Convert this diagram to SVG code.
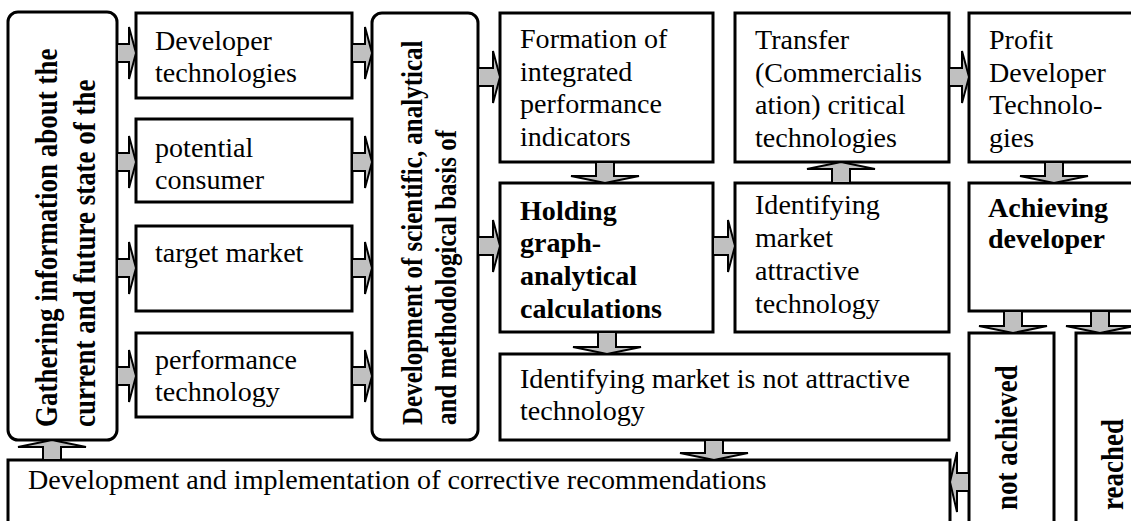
<svg xmlns="http://www.w3.org/2000/svg" width="1131" height="521" viewBox="0 0 1131 521">
<style>
.box{fill:#fff;stroke:#000;stroke-width:3}
.arr{fill:#c0c0c0;stroke:#000;stroke-width:2;stroke-linejoin:miter}
.t{font-family:"Liberation Serif","Times New Roman",serif;font-size:26.5px;fill:#000}
.b{font-weight:bold}
.v{font-family:"Liberation Serif","Times New Roman",serif;font-weight:bold;fill:#000}
</style>
<rect width="1131" height="521" fill="#fff"/>
<g id="nodes">
<g id="gathering"><rect class="box" x="8" y="12" width="109" height="428" rx="10"/>
<text class="v" font-size="27" transform="translate(57,427) scale(1.14,1) rotate(-90)"><tspan x="0" y="0">Gathering information about the</tspan><tspan x="0" dy="33">current and future state of the</tspan></text></g>
<g id="devtech"><rect class="box" x="136" y="13" width="216" height="85"/>
<text class="t" transform="translate(155,50) scale(1.06,1)"><tspan x="0" y="0">Developer</tspan><tspan x="0" dy="32">technologies</tspan></text></g>
<g id="consumer"><rect class="box" x="136" y="119" width="216" height="83"/>
<text class="t" transform="translate(155,157) scale(1.06,1)"><tspan x="0" y="0">potential</tspan><tspan x="0" dy="32">consumer</tspan></text></g>
<g id="market"><rect class="box" x="136" y="226" width="216" height="85"/>
<text class="t" transform="translate(155,262) scale(1.06,1)"><tspan x="0" y="0">target market</tspan></text></g>
<g id="perf"><rect class="box" x="136" y="333" width="216" height="84"/>
<text class="t" transform="translate(155,369) scale(1.06,1)"><tspan x="0" y="0">performance</tspan><tspan x="0" dy="32">technology</tspan></text></g>
<g id="devsci"><rect class="box" x="372" y="13" width="106" height="427" rx="10"/>
<text class="v" font-size="25" transform="translate(422,425) scale(1.14,1) rotate(-90)"><tspan x="0" y="0">Development of scientific, analytical</tspan><tspan x="0" dy="30">and methodological basis of</tspan></text></g>
<g id="formation"><rect class="box" x="500" y="13" width="213" height="149"/>
<text class="t" transform="translate(520,48) scale(1.06,1)"><tspan x="0" y="0">Formation of</tspan><tspan x="0" dy="33">integrated</tspan><tspan x="0" dy="32">performance</tspan><tspan x="0" dy="33">indicators</tspan></text></g>
<g id="holding"><rect class="box" x="500" y="183" width="213" height="149"/>
<text class="t b" transform="translate(520,220) scale(1.06,1)"><tspan x="0" y="0">Holding</tspan><tspan x="0" dy="32">graph-</tspan><tspan x="0" dy="33">analytical</tspan><tspan x="0" dy="33">calculations</tspan></text></g>
<g id="transfer"><rect class="box" x="735" y="13" width="214" height="149"/>
<text class="t" transform="translate(755,49) scale(1.06,1)"><tspan x="0" y="0">Transfer</tspan><tspan x="0" dy="33">(Commercialis</tspan><tspan x="0" dy="32">ation) critical</tspan><tspan x="0" dy="33">technologies</tspan></text></g>
<g id="attractive"><rect class="box" x="735" y="183" width="214" height="149"/>
<text class="t" transform="translate(755,214) scale(1.06,1)"><tspan x="0" y="0">Identifying</tspan><tspan x="0" dy="33">market</tspan><tspan x="0" dy="33">attractive</tspan><tspan x="0" dy="33">technology</tspan></text></g>
<g id="profit"><rect class="box" x="969" y="13" width="175" height="149"/>
<text class="t" transform="translate(989,49) scale(1.06,1)"><tspan x="0" y="0">Profit</tspan><tspan x="0" dy="33">Developer</tspan><tspan x="0" dy="32">Technolo-</tspan><tspan x="0" dy="33">gies</tspan></text></g>
<g id="achieving"><rect class="box" x="969" y="183" width="175" height="128"/>
<text class="t b" transform="translate(988,217) scale(1.06,1)"><tspan x="0" y="0">Achieving</tspan><tspan x="0" dy="31">developer</tspan></text></g>
<g id="notattractive"><rect class="box" x="500" y="354" width="449" height="86"/>
<text class="t" transform="translate(520,388) scale(1.06,1)"><tspan x="0" y="0">Identifying market is not attractive</tspan><tspan x="0" dy="32">technology</tspan></text></g>
<g id="corrective"><rect class="box" x="8" y="460" width="942" height="80"/>
<text class="t" transform="translate(28,489) scale(1.06,1)"><tspan x="0" y="0">Development and implementation of corrective recommendations</tspan></text></g>
<g id="notachieved"><rect class="box" x="969" y="333" width="85" height="200"/>
<text class="v" font-size="27" transform="translate(1017,510) scale(1.14,1) rotate(-90)">not achieved</text></g>
<g id="reached"><rect class="box" x="1076" y="333" width="70" height="200"/>
<text class="v" font-size="27" transform="translate(1123,510) scale(1.14,1) rotate(-90)">reached</text></g>
</g>
<g id="connectors">
<polygon class="arr" points="117,44 129,44 129,27 136,53 129,79 129,62 117,62"/>
<polygon class="arr" points="117,153 129,153 129,136 136,162 129,188 129,171 117,171"/>
<polygon class="arr" points="117,259 129,259 129,242 136,268 129,294 129,277 117,277"/>
<polygon class="arr" points="117,367 129,367 129,350 136,376 129,402 129,385 117,385"/>
<polygon class="arr" points="352,44 365,44 365,27 372,53 365,79 365,62 352,62"/>
<polygon class="arr" points="352,153 365,153 365,136 372,162 365,188 365,171 352,171"/>
<polygon class="arr" points="352,259 365,259 365,242 372,268 365,294 365,277 352,277"/>
<polygon class="arr" points="352,367 365,367 365,350 372,376 365,402 365,385 352,385"/>
<polygon class="arr" points="478,68 493,68 493,51 500,77 493,103 493,86 478,86"/>
<polygon class="arr" points="478,237 493,237 493,220 500,246 493,272 493,255 478,255"/>
<polygon class="arr" points="713,237 728,237 728,220 735,246 728,272 728,255 713,255"/>
<polygon class="arr" points="949,68 962,68 962,51 969,77 962,103 962,86 949,86"/>
<polygon class="arr" points="596,162 596,176 571,176 605,183 639,176 614,176 614,162"/>
<polygon class="arr" points="598,332 598,347 573,347 607,354 641,347 616,347 616,332"/>
<polygon class="arr" points="705,440 705,453 680,453 714,460 748,453 723,453 723,440"/>
<polygon class="arr" points="832,183 832,169 807,169 841,162 875,169 850,169 850,183"/>
<polygon class="arr" points="1045,162 1045,176 1020,176 1054,183 1088,176 1063,176 1063,162"/>
<polygon class="arr" points="1004,311 1004,326 979,326 1013,333 1047,326 1022,326 1022,311"/>
<polygon class="arr" points="1091,311 1091,326 1066,326 1100,333 1134,326 1109,326 1109,311"/>
<polygon class="arr" points="43,460 43,447 18,447 52,440 86,447 61,447 61,460"/>
<polygon class="arr" points="969,473 957,473 957,452 950,482 957,512 957,491 969,491"/>
</g>
</svg>
